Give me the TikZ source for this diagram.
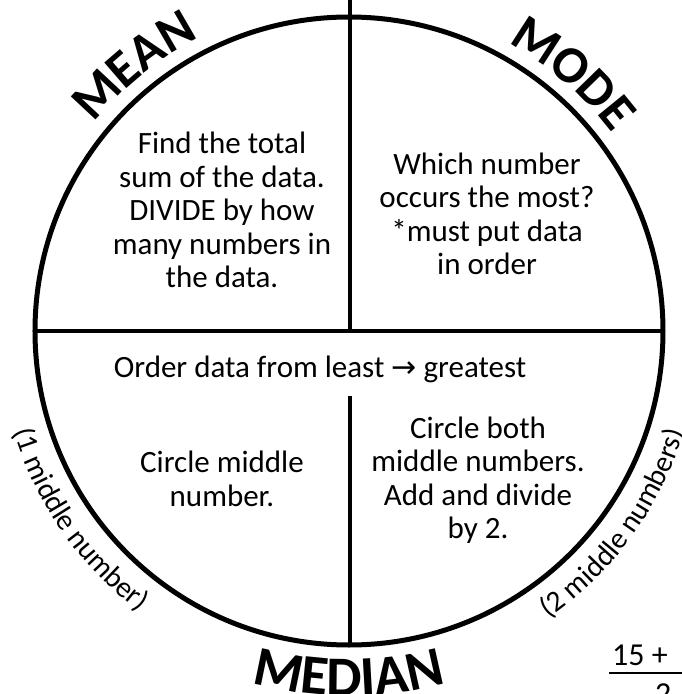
\documentclass[tikz,border=0pt]{standalone}
\usepackage{fontspec}
\setmainfont{Carlito}
\newfontfamily\myarrowfont{DejaVu Sans}
\usetikzlibrary{decorations.text}
\newcommand\mytitlefont{\bfseries\fontsize{52}{52}\selectfont}
\newcommand\mymedfont{\bfseries\fontsize{56}{56}\selectfont}
\newcommand\mynotefont{\fontsize{29.5}{29.5}\selectfont}
\begin{document}
\begin{tikzpicture}[x=1pt,y=1pt,
  body/.style={font=\fontsize{31}{33.5}\selectfont, align=center, inner sep=0pt},
  rule/.style={line width=4.5pt},
  ring/.style={line width=5pt},
  arctext/.style={decorate, decoration={text along path, text align=center, text={#1}}}
]
\useasboundingbox (-349,-363) rectangle (333,331);
\clip (-349,-363) rectangle (333,331);
\coordinate (c) at (0,0);
\draw[ring] (c) circle (314);
\coordinate (top) at (1,331);
\coordinate (hub) at (1,0);
\coordinate (left) at (-314,0);
\coordinate (right) at (314,0);
\coordinate (lowtop) at (1,-65);
\coordinate (lowbot) at (1,-314);
\draw[rule] (top) -- (hub);
\draw[rule] (left) -- (right);
\draw[rule] (lowtop) -- (lowbot);

\node[body] (meantext) at (-127,121) {Find the total\\sum of the data.\\DIVIDE by how\\many numbers in\\the data.};
\node[body] (modetext) at (138,117) {Which number\\occurs the most?\\*must put data\\in order};
\node[body, anchor=base] (order) at (-29,-46) {Order data from least {\myarrowfont\fontsize{30}{30}\selectfont →} greatest};
\node[body] (odd) at (-127,-148) {Circle middle\\number.};
\node[body] (even) at (129,-149) {Circle both\\middle numbers.\\Add and divide\\by 2.};

\node[body, anchor=base west, font=\fontsize{32}{34}\selectfont] (sum) at (263,-334) {15 +};
\coordinate (barl) at (260,-342);
\coordinate (barr) at (340,-342);
\draw[line width=2pt] (barl) -- (barr);
\node[body, anchor=base west, font=\fontsize{32}{34}\selectfont] (two) at (306,-373) {2};

\path[arctext={|\mytitlefont|MEAN}] (154:329) arc[start angle=154, end angle=104, radius=329];
\path[arctext={|\mytitlefont|MODE}] (74:329) arc[start angle=74, end angle=24, radius=329];
\path[arctext={|\mymedfont|MEDIAN}] (246:365) arc[start angle=246, end angle=294, radius=365];
\path[arctext={|\mynotefont|(1 middle number)}] (183:350) arc[start angle=183, end angle=247, radius=350];
\path[arctext={|\mynotefont|(2 middle numbers)}] (292:350) arc[start angle=292, end angle=356, radius=350];
\end{tikzpicture}
\end{document}
